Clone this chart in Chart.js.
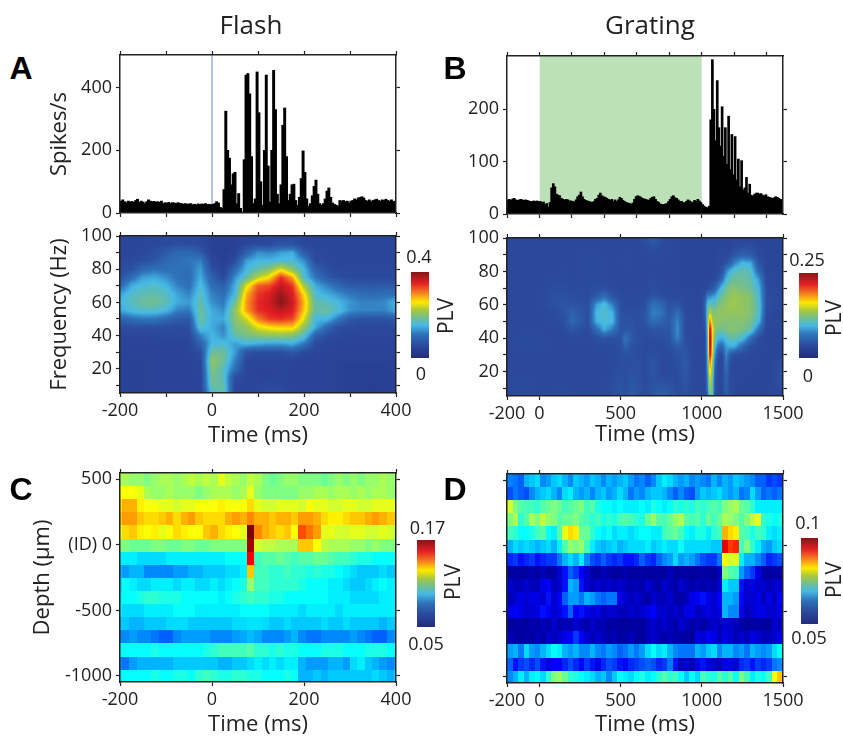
<!DOCTYPE html>
<html>
<head>
<meta charset="utf-8">
<title>Flash / Grating PLV</title>
<script src="https://cdn.jsdelivr.net/npm/chart.js@4"></script>
<style>
  html, body { margin: 0; padding: 0; background: #fff; }
  #page { position: relative; width: 843px; height: 738px; overflow: hidden; }
  #page canvas { position: absolute; }
  .txt { position: absolute; color: #222; white-space: nowrap; transform: translate(-50%, -50%); font-family: "Open Sans", sans-serif; }
</style>
</head>
<body>
<div id="page"></div>
<script>
// ---- spike rates, 4 ms bins from -200 ms (flash) and 10 ms bins from -200 ms (grating)
const spikesFlash = [
  38,42,36,33,38,35,37,34,40,44,34,38,35,30,36,42,38,36,37,35,36,34,38,30,33,31,34,30,33,32,30,33,31,30,28,30,28,29,30,26,28,26,29,27,29,28,30,27,28,26,
  28,30,36,32,18,14,75,325,200,175,90,125,130,30,62,15,3,170,440,445,380,180,30,45,450,320,100,25,200,440,150,35,200,455,330,60,30,90,280,335,180,40,60,90,92,40,25,50,110,198,130,45,22,30,55,85,105,60,30,25,30,45,70,80,50,32,28,25,22,
  40,38,40,36,38,32,38,40,45,42,48,50,52,48,40,38,42,36,40,42,44,40,38,42,40,44,40,38,42,36,38
];
const spikesGrating = [
  27,28,26,29,30,27,26,27,28,27,26,27,26,25,24,24,25,24,25,24,
  24,22,23,18,20,13,22,50,58,52,38,36,35,30,28,27,28,27,25,25,24,23,27,33,36,42,33,28,26,25,24,23,22,24,28,30,36,40,35,33,32,30,28,26,28,24,27,24,27,32,30,26,24,22,21,20,19,21,28,33,35,34,32,30,29,28,27,26,30,32,33,28,24,22,19,18,18,19,20,24,28,33,35,31,30,27,24,24,22,21,24,27,25,23,22,26,24,28,25,22,
  18,15,13,12,15,180,295,200,140,255,165,130,205,110,165,95,187,85,152,75,148,65,105,52,102,46,50,70,40,57,36,34,38,40,40,38,39,36,35,37,33,32,31,30,31,33,32,30,28,27
];

// ---- tick values and labels
const flashTicks = [-200,-100,0,100,200,300,400];
const flashLabels = [-200,0,200,400];
const gratingTicks = [-200,0,500,1000,1500];
const gratingHistTicks = [-200,0,200,400,600,800,1000,1200,1400];
const freqTicks = [10,20,30,40,50,60,70,80,90,100];
const freqLabels = [20,40,60,80,100];
const depthTicks = [500,0,-500,-1000];

// ---- time/frequency PLV, percent of the colour bar range
const flashTimes = [-200,-175,-150,-125,-100,-75,-50,-25,0,25,50,75,100,125,150,175,200,225,250,275,300,325,350,375,400];
const flashFreqs = [100,95,90,85,80,75,70,65,60,55,50,45,40,35,30,25,20,15,10,5];
const plvFlash = [
  [13,13,13,13,14,14,14,14,11,10,10,12,12,13,13,14,12,12,13,13,13,13,13,13,13],
  [13,13,13,14,15,16,16,15,11,10,10,14,15,15,18,18,14,13,13,13,13,13,13,13,13],
  [13,13,14,16,20,24,24,20,11,10,11,22,32,30,34,36,20,14,13,13,13,13,13,13,13],
  [14,15,16,19,24,26,28,30,13,10,15,34,38,38,40,40,32,15,14,13,13,13,13,13,13],
  [15,17,24,27,26,27,26,34,17,12,24,38,44,50,62,50,38,22,16,14,14,14,14,14,14],
  [17,26,34,36,32,27,25,36,22,14,32,44,58,66,85,72,40,28,20,16,15,15,15,15,15],
  [24,36,40,41,38,30,26,40,26,22,36,62,80,82,92,84,55,36,30,24,20,20,19,20,20],
  [34,41,43,44,42,35,30,42,30,26,38,70,84,88,97,88,66,40,36,32,28,26,25,26,26],
  [38,42,46,47,43,36,34,44,32,28,46,73,86,90,100,90,70,44,42,38,33,30,30,31,38],
  [35,39,41,41,38,30,28,46,36,32,52,72,85,88,92,88,68,44,46,40,32,30,30,30,36],
  [22,26,28,28,24,20,20,46,36,36,50,60,76,84,85,82,62,38,38,28,20,18,17,17,20],
  [15,16,16,16,16,15,16,42,36,30,48,52,62,66,68,68,52,36,24,16,15,14,14,14,14],
  [13,13,13,13,14,14,14,30,38,32,44,48,50,52,52,50,42,22,16,14,13,13,13,13,13],
  [12,12,12,12,12,12,13,22,38,40,34,38,36,34,34,36,28,15,13,12,12,12,12,12,12],
  [12,12,12,12,12,12,12,16,46,46,34,18,16,16,16,20,15,13,12,12,12,12,12,12,12],
  [12,11,11,12,12,12,12,14,52,46,30,14,13,13,13,13,12,12,12,11,11,11,11,11,11],
  [12,11,11,12,12,12,12,13,50,42,26,13,12,12,13,12,12,12,12,11,10,10,10,10,11],
  [12,11,11,12,12,12,12,12,48,42,16,13,12,12,13,12,12,12,12,11,10,10,10,10,11],
  [12,11,11,12,12,12,12,12,46,44,14,13,13,14,14,12,12,12,12,11,10,10,9,10,11],
  [12,11,11,12,12,12,12,12,40,44,14,13,14,16,16,12,12,12,12,11,10,10,9,10,11]
];

const gratingTimes = [-200,-100,0,100,150,200,300,350,400,450,500,530,560,600,650,700,750,800,850,900,950,1000,1020,1035,1050,1065,1080,1100,1125,1150,1175,1200,1250,1300,1350,1400,1500];
const gratingFreqs = flashFreqs;
const plvGrating = [
  [14,14,14,14,14,14,14,14,14,14,14,14,14,14,16,22,16,14,14,13,13,13,13,13,13,13,13,13,13,13,13,13,13,13,13,13,13],
  [14,14,14,14,14,14,14,14,14,14,14,14,14,14,15,17,15,14,14,13,13,13,13,13,13,13,13,13,13,13,13,15,16,16,14,13,13],
  [14,14,14,14,14,14,15,15,14,14,14,15,14,14,14,15,15,14,14,13,13,13,13,13,13,13,13,14,14,14,15,18,22,20,15,13,13],
  [14,14,14,14,14,14,15,15,14,14,14,15,14,14,14,14,14,14,14,13,13,13,13,13,13,13,13,14,15,18,22,30,38,36,18,13,13],
  [14,14,14,14,15,14,15,15,14,14,14,14,14,14,14,14,14,14,14,13,13,13,13,13,13,13,14,15,18,30,38,42,44,42,24,13,13],
  [14,14,14,15,15,14,15,15,15,14,14,14,14,14,14,15,14,14,14,13,13,13,13,13,14,14,15,18,26,38,44,46,46,44,34,14,13],
  [14,14,14,16,16,15,15,16,16,15,14,14,14,14,14,16,15,14,14,13,13,13,14,14,18,18,22,30,40,46,50,50,48,46,38,15,13],
  [14,14,14,17,17,16,15,20,26,18,15,15,15,15,15,18,16,15,15,14,14,14,18,30,30,34,34,42,46,50,52,53,52,50,40,16,13],
  [14,14,14,17,18,18,16,34,40,30,16,15,15,15,16,28,24,17,18,14,14,14,24,40,46,44,42,48,50,52,54,54,52,50,42,16,13],
  [14,14,14,15,18,22,16,38,41,37,17,16,16,16,18,30,28,18,26,15,14,14,22,44,60,50,50,52,52,52,52,52,52,50,42,15,13],
  [14,14,14,15,16,24,16,36,40,38,18,17,17,16,18,26,22,20,30,15,14,14,18,46,80,58,52,52,50,50,50,50,50,48,38,14,13],
  [14,14,14,14,15,18,15,24,36,28,18,18,19,16,16,18,18,18,32,15,14,14,16,44,95,66,50,48,46,48,50,50,48,44,26,13,13],
  [14,15,15,14,14,15,14,16,18,17,17,28,20,17,15,16,16,17,30,16,14,14,15,40,100,68,46,38,36,40,44,44,40,26,15,13,13],
  [14,15,15,14,14,14,14,15,15,15,16,22,18,16,15,15,15,16,20,17,14,14,15,40,100,66,40,26,24,34,36,36,24,16,14,13,13],
  [14,14,14,14,14,14,14,14,14,15,16,17,17,16,15,16,15,15,17,19,14,14,15,38,94,62,32,17,14,32,20,16,15,14,14,13,13],
  [14,14,14,14,14,14,14,14,14,15,16,16,16,17,15,18,15,15,16,20,14,14,14,36,78,55,26,15,14,28,16,14,14,14,13,13,16],
  [14,14,14,14,14,14,14,14,14,15,16,16,17,17,15,18,15,15,15,19,14,14,14,34,70,50,22,14,14,24,15,14,14,14,13,13,17],
  [14,15,14,14,14,14,14,14,14,16,17,16,18,18,15,17,16,16,15,18,14,14,14,30,62,46,20,14,14,22,15,14,13,13,13,13,17],
  [14,15,14,14,15,14,14,14,14,16,18,16,19,18,15,18,19,18,15,17,14,14,14,28,56,46,18,14,14,22,15,14,13,13,13,13,15],
  [15,15,14,15,15,14,14,14,14,16,18,18,20,18,15,18,22,20,16,16,15,15,15,24,46,46,16,14,14,20,15,14,13,13,13,13,14]
];

// ---- time/depth PLV, percent of the jet range
const depthRows = [498,398,298,198,98,-2,-102,-202,-302,-402,-502,-602,-702,-802,-902,-1002];
const depthTimesFlash = [-204,-188,-172,-156,-140,-124,-108,-92,-76,-60,-44,-28,-12,4,20,36,52,68,84,100,116,132,148,164,180,196,212,228,244,260,276,292,308,324,340,356,372,388,404];
const depthFlash = [
  [54,54,52,52,50,52,54,54,52,54,56,54,56,54,60,56,54,52,56,54,50,48,50,52,52,50,50,50,48,50,52,50,52,50,52,52,54,52,54],
  [62,62,62,60,54,52,52,54,52,52,52,50,52,54,54,54,52,54,60,52,50,50,50,50,50,52,52,54,54,52,54,54,52,54,52,54,54,52,52],
  [66,70,70,64,62,62,60,60,58,60,60,62,62,62,64,62,62,62,66,60,58,58,60,60,60,58,62,60,60,58,58,60,60,58,58,60,60,60,62],
  [68,72,72,68,66,66,68,70,66,70,72,68,66,66,66,70,72,70,74,70,70,68,70,70,68,72,72,70,66,64,64,66,68,68,70,72,70,68,68],
  [60,66,68,64,62,64,60,62,66,64,62,62,68,70,66,64,62,60,100,74,70,68,66,68,62,80,76,72,60,60,58,58,60,60,58,58,60,58,56],
  [50,50,48,48,48,50,50,48,48,50,50,48,48,50,50,50,50,50,96,58,56,56,54,54,54,68,68,62,56,54,54,54,52,52,50,52,50,50,50],
  [36,36,36,34,34,34,34,36,36,36,36,36,36,36,36,38,38,38,88,44,46,46,48,46,44,46,46,48,48,46,44,44,42,40,40,38,38,38,38],
  [30,28,30,30,26,26,26,26,28,28,30,30,32,32,32,34,34,36,68,44,44,42,42,44,42,42,40,42,40,40,38,36,34,32,32,32,34,32,32],
  [34,38,36,34,34,36,36,36,34,36,36,34,34,36,34,36,38,40,52,44,44,42,42,42,42,40,38,38,38,36,36,34,32,32,34,36,38,36,36],
  [36,38,38,40,42,42,40,40,40,38,38,38,38,38,36,38,40,42,44,42,42,40,40,38,38,38,38,38,38,36,36,36,34,34,34,34,36,36,36],
  [36,34,34,34,36,36,36,36,38,38,38,36,36,36,36,36,36,38,38,38,38,36,36,36,36,34,36,36,36,36,34,36,36,36,36,36,36,36,36],
  [32,32,30,30,32,32,32,34,34,34,32,32,32,32,32,32,34,34,35,35,34,32,32,34,32,32,32,32,34,32,32,34,32,32,32,32,30,32,32],
  [26,26,28,26,26,24,22,22,26,28,28,28,28,26,26,26,28,29,31,29,26,26,26,28,30,26,24,24,26,26,26,26,28,26,24,22,22,26,28],
  [38,38,38,38,38,40,38,38,38,38,38,38,40,42,44,44,44,44,46,42,42,40,42,40,40,38,38,38,40,40,40,38,38,38,40,40,40,38,40],
  [26,24,28,30,30,30,30,30,32,32,32,32,32,32,30,30,32,32,34,36,34,36,34,36,36,30,28,28,28,30,30,28,34,36,32,30,28,26,28],
  [36,38,38,38,38,40,38,38,40,40,38,42,44,42,40,40,42,42,40,40,38,38,38,40,38,30,30,32,30,32,32,32,32,32,32,34,32,30,34]
];

const depthTimesGrating = [-183,-149,-115,-81,-47,-13,21,55,89,123,157,191,225,259,293,327,361,395,429,463,497,531,565,599,633,667,701,735,769,803,837,871,905,939,973,1007,1041,1075,1109,1143,1177,1211,1245,1279,1313,1347,1381,1415,1449,1483];
const depthGrating = [
  [25,24,22,30,32,34,26,28,32,34,30,26,32,30,28,32,30,26,30,28,30,32,28,24,26,22,26,32,36,34,30,28,30,26,28,26,24,30,26,30,28,32,30,28,26,22,22,18,20,18],
  [20,24,22,20,26,30,32,34,30,26,34,36,30,28,30,26,30,32,28,30,34,30,24,28,26,30,32,32,30,26,22,26,22,20,28,32,30,32,34,30,28,30,24,26,34,28,22,24,22,24],
  [58,50,46,44,44,42,46,48,50,48,44,46,48,50,44,46,40,38,38,36,38,36,36,36,38,36,40,38,36,38,42,40,42,40,44,42,44,46,44,50,52,54,48,46,42,36,36,36,36,36],
  [50,54,42,46,54,50,56,52,50,46,48,48,50,46,44,42,44,40,42,40,44,46,44,42,40,48,52,46,44,48,52,54,46,44,46,42,48,44,48,54,52,50,46,50,56,60,42,40,38,40],
  [44,42,38,38,40,44,46,38,36,46,60,66,64,48,48,42,38,36,38,34,36,36,34,36,38,38,36,36,44,46,48,44,38,36,40,40,36,42,44,70,66,64,46,44,40,44,42,36,34,36],
  [30,34,32,34,32,30,32,34,30,36,46,52,50,52,44,36,32,30,32,34,30,32,34,34,34,36,32,34,36,34,34,38,34,34,34,34,34,32,32,90,82,84,44,50,42,36,30,28,32,34],
  [16,18,14,16,18,14,16,18,18,24,30,34,30,36,26,20,18,22,18,16,18,14,14,16,22,18,16,22,26,28,34,28,30,28,24,20,18,18,24,62,58,60,36,30,30,26,22,16,18,20],
  [3,4,3,3,5,3,6,3,4,8,14,22,18,12,8,4,3,6,4,3,3,5,3,3,4,3,3,4,3,6,3,3,4,3,3,4,3,3,6,50,46,44,28,22,18,10,4,3,4,3],
  [8,6,6,8,6,6,10,12,6,8,14,30,28,14,8,6,8,6,8,6,8,6,5,6,4,8,6,4,8,6,4,8,6,4,6,4,6,4,8,36,32,32,14,8,10,8,8,6,8,8],
  [6,8,10,8,10,10,8,14,8,12,22,28,28,24,30,28,24,22,24,24,10,8,6,8,6,4,8,6,6,8,4,4,6,10,12,14,10,8,12,30,30,28,12,8,8,10,6,10,6,12],
  [10,12,10,8,8,10,14,12,8,10,14,22,12,14,10,8,10,6,8,8,6,6,8,6,8,10,12,8,8,6,8,6,10,10,6,8,10,8,10,30,26,26,10,6,8,10,10,8,8,10],
  [3,3,4,3,5,3,6,4,8,4,6,5,8,6,4,8,5,6,3,4,3,3,3,4,3,6,8,6,8,6,4,8,6,4,6,4,6,8,6,8,8,6,4,3,4,4,3,3,8,6],
  [6,4,3,4,3,6,4,8,6,8,10,12,18,12,8,6,8,6,4,6,3,4,6,3,3,6,8,6,4,6,4,4,3,3,10,8,12,10,6,10,8,6,8,6,10,8,6,6,8,10],
  [28,30,24,34,28,26,30,34,38,36,30,28,30,26,26,30,26,24,28,26,22,24,28,24,28,34,38,34,36,30,26,24,24,24,30,28,32,34,26,30,30,26,28,24,30,28,26,28,34,38],
  [22,14,18,20,16,20,14,10,12,12,16,20,16,12,18,14,10,16,20,18,14,12,16,18,20,22,20,16,18,24,14,6,8,5,10,14,10,8,6,10,10,8,16,18,14,18,16,18,24,26],
  [26,30,36,30,36,38,34,42,50,52,48,42,40,38,36,34,30,32,26,32,38,36,34,38,40,36,38,42,46,42,44,38,32,38,34,44,42,40,46,42,46,38,50,44,36,40,38,44,62,68]
];

const barLevels = [100,95,90,85,80,75,70,65,60,55,50,45,40,35,30,25,20,15,10,5,0];

// ---- colour maps
const printStops = [[0,'#232c7e'],[0.15,'#2b4a9e'],[0.28,'#2f75bb'],[0.38,'#46b9e5'],[0.46,'#6dbd98'],[0.56,'#a9c93c'],[0.65,'#ffe900'],[0.75,'#f6851f'],[0.87,'#e31e24'],[1,'#861719']];
const jetStops = [[0,'#00007f'],[0.125,'#0000ff'],[0.375,'#00ffff'],[0.625,'#ffff00'],[0.875,'#ff0000'],[1,'#7f0000']];

function makeLut(stops) {
  const rgb = stops.map(s => [s[0], parseInt(s[1].slice(1,3),16), parseInt(s[1].slice(3,5),16), parseInt(s[1].slice(5,7),16)]);
  const lut = [];
  for (let i = 0; i <= 255; i++) {
    const f = i / 255;
    let k = 0;
    while (k < rgb.length - 2 && f > rgb[k+1][0]) k++;
    const a = rgb[k], b = rgb[k+1], w = (f - a[0]) / (b[0] - a[0]);
    lut.push([a[1]+(b[1]-a[1])*w, a[2]+(b[2]-a[2])*w, a[3]+(b[3]-a[3])*w]);
  }
  return lut;
}
const printLut = makeLut(printStops);
const jetLut = makeLut(jetStops);

const INK = '#222';
const tickFont = { family: '"Open Sans", sans-serif', size: 18 };
const titleFont = { family: '"Open Sans", sans-serif', size: 22 };
const page = document.getElementById('page');

function addText(text, cx, cy, size, extra) {
  const d = document.createElement('div');
  d.className = 'txt';
  d.textContent = text;
  d.style.left = cx + 'px';
  d.style.top = cy + 'px';
  d.style.fontSize = size + 'px';
  if (extra) Object.assign(d.style, extra);
  page.appendChild(d);
}

// position of v in an ascending list: lower index and weight
function locate(list, v) {
  if (v <= list[0]) return [0, 0];
  for (let i = 0; i < list.length - 1; i++) {
    if (v <= list[i+1]) return [i, (v - list[i]) / (list[i+1] - list[i])];
  }
  return [list.length - 2, 1];
}

// paints the grid through the chart's own scales, one pixel at a time
function heatPlugin(xs, ys, rows, lut, smooth) {
  let yAsc = ys, rowsAsc = rows;
  if (ys[0] > ys[1]) { yAsc = ys.slice().reverse(); rowsAsc = rows.slice().reverse(); }
  return {
    id: 'heat',
    beforeDatasetsDraw(chart) {
      const area = chart.chartArea, ctx = chart.ctx;
      const L = Math.round(area.left), T = Math.round(area.top);
      const W = Math.round(area.right) - L, H = Math.round(area.bottom) - T;
      const img = ctx.createImageData(W, H);
      const colPos = [];
      for (let i = 0; i < W; i++) colPos.push(locate(xs, chart.scales.x.getValueForPixel(L + i + 0.5)));
      for (let j = 0; j < H; j++) {
        const rp = locate(yAsc, chart.scales.y.getValueForPixel(T + j + 0.5));
        const rw = smooth ? rp[1] : (rp[1] < 0.5 ? 0 : 1);
        const r0 = rowsAsc[rp[0]], r1 = rowsAsc[rp[0]+1];
        for (let i = 0; i < W; i++) {
          const cw = smooth ? colPos[i][1] : (colPos[i][1] < 0.5 ? 0 : 1);
          const c = colPos[i][0];
          const v = (r0[c]*(1-cw) + r0[c+1]*cw)*(1-rw) + (r1[c]*(1-cw) + r1[c+1]*cw)*rw;
          const col = lut[Math.max(0, Math.min(255, Math.round(v * 2.55)))];
          const p = (j*W + i) * 4;
          img.data[p] = col[0]; img.data[p+1] = col[1]; img.data[p+2] = col[2]; img.data[p+3] = 255;
        }
      }
      ctx.putImageData(img, L, T);
    }
  };
}

function cells(xs, ys, rows) {
  const out = [];
  ys.forEach((y, j) => xs.forEach((x, i) => out.push({ x: x, y: y, v: rows[j][i] })));
  return out;
}

function panelScales(o) {
  const border = { color: INK, width: 1.5, z: 1 };
  const tickGrid = { drawOnChartArea: false, tickLength: 4, tickColor: INK, tickWidth: 1.2, offset: false };
  const setTicks = list => (s => { s.ticks = list.map(v => ({ value: v })); });
  const labelText = o.yText || (v => String(v));
  return {
    x: {
      type: 'linear', position: 'bottom', min: o.xMin, max: o.xMax, offset: false,
      afterBuildTicks: setTicks(o.xTicks),
      afterFit: s => { s.height = o.mb; },
      border: border, grid: tickGrid,
      ticks: { autoSkip: false, maxRotation: 0, padding: 3, font: tickFont, color: INK,
        callback: v => o.xLabels.includes(v) ? String(v) : '' },
      title: { display: !!o.xTitle, text: o.xTitle, font: titleFont, color: INK, padding: 0 }
    },
    xTop: {
      type: 'linear', position: 'top', axis: 'x', min: o.xMin, max: o.xMax, offset: false,
      afterBuildTicks: setTicks(o.xTopTicks || o.xTicks),
      afterFit: s => { s.height = o.mt; },
      border: border, grid: tickGrid, ticks: { display: false }
    },
    y: {
      type: 'linear', position: 'left', min: o.yMin, max: o.yMax,
      afterBuildTicks: setTicks(o.yTicks),
      afterFit: s => { s.width = o.ml; },
      border: border, grid: tickGrid,
      ticks: { autoSkip: false, padding: 4, font: tickFont, color: INK,
        callback: v => o.yLabels.includes(v) ? labelText(v) : '' },
      title: { display: !!o.yTitle, text: o.yTitle, font: titleFont, color: INK, padding: 0 }
    },
    yRight: {
      type: 'linear', position: 'right', axis: 'y', min: o.yMin, max: o.yMax,
      afterBuildTicks: setTicks(o.yTicks),
      afterFit: s => { s.width = o.mr; },
      border: border, grid: tickGrid, ticks: { display: false }
    }
  };
}

function addChart(o, type, datasets, plugins) {
  const c = document.createElement('canvas');
  const w = o.x1 - o.x0 + o.ml + o.mr, h = o.y1 - o.y0 + o.mt + o.mb;
  c.width = w; c.height = h;
  c.style.left = (o.x0 - o.ml) + 'px';
  c.style.top = (o.y0 - o.mt) + 'px';
  page.appendChild(c);
  return new Chart(c, {
    type: type,
    data: { datasets: datasets },
    plugins: plugins || [],
    options: {
      responsive: false, animation: false, devicePixelRatio: 1,
      layout: { padding: 0 },
      plugins: { legend: { display: false }, tooltip: { enabled: false } },
      scales: panelScales(o)
    }
  });
}

function histPanel(o, spikes, start, bin, thickness, extra) {
  const bars = {
    type: 'bar', label: 'Spikes/s', order: 1,
    data: spikes.map((v, i) => ({ x: start + bin * (i + 0.5), y: v })),
    backgroundColor: '#000', barThickness: thickness
  };
  addChart(o, 'bar', [bars].concat(extra));
}

function heatPanel(o, xs, ys, rows, lut, smooth) {
  const ds = { label: 'PLV', data: cells(xs, ys, rows), pointRadius: 0 };
  addChart(o, 'scatter', [ds], [heatPlugin(xs, ys, rows, lut, smooth)]);
}

function colourBar(x0, y0, x1, y1, levels) {
  const c = document.createElement('canvas');
  c.width = x1 - x0; c.height = y1 - y0;
  c.style.left = x0 + 'px'; c.style.top = y0 + 'px';
  page.appendChild(c);
  const xs = [0, 1];
  const rows = levels.map(v => [v, v]);
  new Chart(c, {
    type: 'scatter',
    data: { datasets: [{ label: 'PLV scale', data: cells(xs, levels, rows), pointRadius: 0 }] },
    plugins: [heatPlugin(xs, levels, rows, printLut, true)],
    options: {
      responsive: false, animation: false, devicePixelRatio: 1,
      plugins: { legend: { display: false }, tooltip: { enabled: false } },
      scales: {
        x: { display: false, min: 0, max: 1 },
        y: { display: false, min: 0, max: 100 }
      }
    }
  });
}

// ---- spike histograms
histPanel(
  { x0: 120, y0: 55, x1: 396, y1: 213, ml: 73, mr: 30, mt: 16, mb: 30,
    xMin: -200, xMax: 400, xTicks: flashTicks, xLabels: [],
    yMin: 0, yMax: 504, yTicks: [0,200,400], yLabels: [0,200,400], yTitle: 'Spikes/s' },
  spikesFlash, -200, 4, 2.3,
  [{ type: 'line', label: 'Flash', order: 2, data: [{ x: 0, y: 0 }, { x: 0, y: 504 }],
     borderColor: '#9db7e8', borderWidth: 1.6, pointRadius: 0 }]
);
histPanel(
  { x0: 507, y0: 56, x1: 783, y1: 214, ml: 60, mr: 30, mt: 16, mb: 30,
    xMin: -200, xMax: 1500, xTicks: gratingHistTicks, xLabels: [],
    yMin: 0, yMax: 302, yTicks: [0,100,200], yLabels: [0,100,200] },
  spikesGrating, -200, 10, 2,
  [{ type: 'line', label: 'Grating on', order: 2, data: [{ x: 0, y: 302 }, { x: 1000, y: 302 }],
     borderWidth: 0, pointRadius: 0, fill: 'origin', backgroundColor: '#bce0b8' }]
);

// ---- time/frequency maps
heatPanel(
  { x0: 120, y0: 236, x1: 396, y1: 393, ml: 73, mr: 30, mt: 16, mb: 56,
    xMin: -200, xMax: 400, xTicks: flashTicks, xLabels: flashLabels, xTitle: 'Time (ms)',
    yMin: 5.4, yMax: 100, yTicks: freqTicks, yLabels: freqLabels, yTitle: 'Frequency (Hz)' },
  flashTimes, flashFreqs, plvFlash, printLut, true
);
heatPanel(
  { x0: 507, y0: 238, x1: 783, y1: 396, ml: 60, mr: 30, mt: 16, mb: 52,
    xMin: -200, xMax: 1500, xTicks: gratingTicks, xLabels: gratingTicks, xTitle: 'Time (ms)',
    yMin: 5.4, yMax: 100, yTicks: freqTicks, yLabels: freqLabels },
  gratingTimes, gratingFreqs, plvGrating, printLut, true
);

// ---- time/depth maps
heatPanel(
  { x0: 120, y0: 473, x1: 396, y1: 682, ml: 90, mr: 30, mt: 16, mb: 56,
    xMin: -200, xMax: 400, xTicks: flashLabels, xLabels: flashLabels, xTitle: 'Time (ms)',
    yMin: -1046, yMax: 548, yTicks: depthTicks, yLabels: depthTicks, yTitle: 'Depth (µm)',
    yText: v => v === 0 ? '(ID) 0' : String(v) },
  depthTimesFlash, depthRows, depthFlash, jetLut, false
);
heatPanel(
  { x0: 507, y0: 474, x1: 783, y1: 683, ml: 60, mr: 30, mt: 16, mb: 55,
    xMin: -200, xMax: 1500, xTicks: gratingTicks, xLabels: gratingTicks, xTitle: 'Time (ms)',
    yMin: -1046, yMax: 548, yTicks: depthTicks, yLabels: [] },
  depthTimesGrating, depthRows, depthGrating, jetLut, false
);

// ---- colour bars
colourBar(411, 272, 429, 358, barLevels);
colourBar(799, 273, 818, 358, barLevels);
colourBar(417, 540, 435, 627, barLevels);
colourBar(801, 538, 818, 624, barLevels);

addText('0.4', 419, 256, 18);
addText('0', 421, 373, 18);
addText('0.25', 807, 259, 18);
addText('0', 808, 375, 18);
addText('0.17', 427.5, 527, 18);
addText('0.05', 426, 643, 18);
addText('0.1', 808, 522, 18);
addText('0.05', 809, 637, 18);
[[445,316],[833,318],[452,582],[833,580]].forEach(p => addText('PLV', p[0], p[1], 21, { transform: 'translate(-50%, -50%) rotate(-90deg)' }));

// ---- column titles and panel letters
addText('Flash', 251, 24, 26);
addText('Grating', 650, 24, 26);
[['A',21,68],['B',455,68],['C',21,489],['D',455,489]].forEach(p =>
  addText(p[0], p[1], p[2], 32, { fontFamily: '"Liberation Sans", sans-serif', fontWeight: 'bold', color: '#000' }));
</script>
</body>
</html>
